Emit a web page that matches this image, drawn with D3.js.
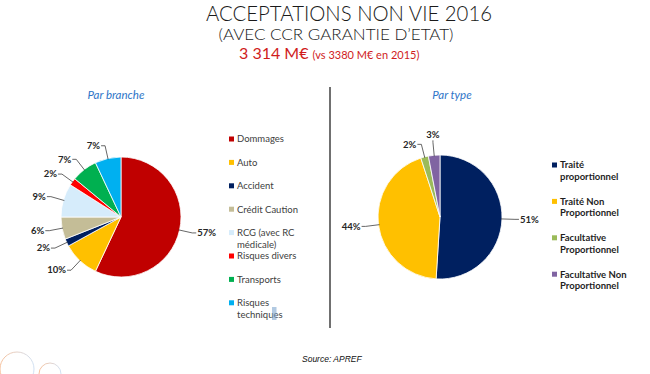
<!DOCTYPE html>
<html>
<head>
<meta charset="utf-8">
<script src="https://cdn.jsdelivr.net/npm/d3@7"></script>
<style>
  body { margin: 0; background: #fff; }
  svg { display: block; }
</style>
</head>
<body>
<svg id="chart" width="650" height="374"></svg>
<script>
// data
const branches = ["Dommages", "Auto", "Accident", "Crédit Caution", "RCG (avec RC\nmédicale)", "Risques divers", "Transports", "Risques\ntechniques"];
const branchShares = [57, 10, 2, 6, 9, 2, 7, 7];
const branchColors = ["#c00000", "#ffc000", "#002060", "#c4bd97", "#d6ecfb", "#ff0000", "#00b050", "#00b0f0"];

const types = ["Traité\nproportionnel", "Traité Non\nProportionnel", "Facultative\nProportionnel", "Facultative Non\nProportionnel"];
const typeShares = [51, 44, 2, 3];
const typeColors = ["#002060", "#ffc000", "#9bbb59", "#8064a2"];

const svg = d3.select("#chart");
const font = "Lato, 'Open Sans', sans-serif";

svg.append("rect").attr("width", 650).attr("height", 374).attr("fill", "#fff");

// titles
svg.append("text")
    .attr("x", 349).attr("y", 21)
    .attr("text-anchor", "middle")
    .attr("font-family", font).attr("font-weight", 300)
    .attr("font-size", 21).attr("fill", "#1a1a1a")
    .attr("textLength", 286).attr("lengthAdjust", "spacingAndGlyphs")
    .text("ACCEPTATIONS NON VIE 2016");

svg.append("text")
    .attr("x", 336).attr("y", 40)
    .attr("text-anchor", "middle")
    .attr("font-family", font).attr("font-weight", 300)
    .attr("font-size", 16).attr("fill", "#1a1a1a")
    .attr("textLength", 235).attr("lengthAdjust", "spacingAndGlyphs")
    .text("(AVEC CCR GARANTIE D’ETAT)");

const sub = svg.append("text")
    .attr("x", 239).attr("y", 58.5)
    .attr("font-family", font).attr("fill", "#d01c1c");
sub.append("tspan").attr("font-size", 16).text("3 314 M€ ");
sub.append("tspan").attr("font-size", 11).text("(vs 3380 M€ en 2015)");

svg.append("text")
    .attr("x", 116).attr("y", 99)
    .attr("text-anchor", "middle")
    .attr("font-family", font).attr("font-style", "italic")
    .attr("font-size", 11.5).attr("fill", "#2e75c8")
    .text("Par branche");

svg.append("text")
    .attr("x", 452).attr("y", 99)
    .attr("text-anchor", "middle")
    .attr("font-family", font).attr("font-style", "italic")
    .attr("font-size", 11.5).attr("fill", "#2e75c8")
    .text("Par type");

// divider
svg.append("line")
    .attr("x1", 330).attr("y1", 87)
    .attr("x2", 330).attr("y2", 328)
    .attr("stroke", "#404040").attr("stroke-width", 1.5);

// source
svg.append("text")
    .attr("x", 302).attr("y", 362)
    .attr("font-family", "'Liberation Sans', Arial, sans-serif")
    .attr("font-style", "italic")
    .attr("font-size", 8.5).attr("fill", "#111")
    .text("Source: APREF");

// decorative circles
const defs = svg.append("defs");
const grad = defs.append("linearGradient").attr("id", "ring");
grad.append("stop").attr("offset", "0%").attr("stop-color", "#f4b183");
grad.append("stop").attr("offset", "100%").attr("stop-color", "#c5d9f0");
[[17, 369, 17], [50, 374, 11]].forEach(c => {
    svg.append("circle")
        .attr("cx", c[0]).attr("cy", c[1]).attr("r", c[2])
        .attr("fill", "none").attr("stroke", "url(#ring)")
        .attr("stroke-width", 1).attr("opacity", 0.8);
});

function drawPie(cx, cy, r, shares, colors) {
    const g = svg.append("g").attr("transform", `translate(${cx},${cy})`);
    const pie = d3.pie().sort(null).value(d => d);
    const arc = d3.arc().innerRadius(0).outerRadius(r);
    const arcs = pie(shares);

    g.selectAll("path.slice")
        .data(arcs)
        .join("path")
        .attr("class", "slice")
        .attr("d", arc)
        .attr("fill", (d, i) => colors[i])
        .attr("stroke", "#fff")
        .attr("stroke-width", 0.8);

    const elbowR = r + 13;
    arcs.forEach(d => {
        const mid = (d.startAngle + d.endAngle) / 2;
        const s = Math.sin(mid), c = Math.cos(mid);
        const edge = [s * (r - 1), -c * (r - 1)];
        const elbow = [s * elbowR, -c * elbowR];
        const top = c > 0.98;
        let anchor, tx, ty, end;
        if (top) {
            anchor = "middle";
            end = [elbow[0], elbow[1] - 2];
            tx = elbow[0]; ty = elbow[1] - 4;
        } else if (s > 0) {
            anchor = "start";
            end = [elbow[0] + 4, elbow[1]];
            tx = end[0] + 1; ty = elbow[1] + 3.2;
        } else {
            anchor = "end";
            end = [elbow[0] - 4, elbow[1]];
            tx = end[0] - 1; ty = elbow[1] + 3.2;
        }
        g.append("polyline")
            .attr("points", [edge, elbow, end].map(p => p.join(",")).join(" "))
            .attr("fill", "none")
            .attr("stroke", "#404040")
            .attr("stroke-width", 0.8);
        g.append("text")
            .attr("x", tx).attr("y", ty)
            .attr("text-anchor", anchor)
            .attr("font-family", font).attr("font-weight", "bold")
            .attr("font-size", 9.5).attr("fill", "#262626")
            .text(d.data + "%");
    });
}

function drawLegend(x, y0, step, names, colors, bold) {
    const row = d3.scaleLinear().domain([0, 1]).range([y0, y0 + step]);
    const g = svg.append("g");
    names.forEach((name, i) => {
        const y = row(i);
        g.append("rect")
            .attr("x", x).attr("y", y - 2.5)
            .attr("width", 5).attr("height", 5)
            .attr("fill", colors[i]);
        const t = g.append("text")
            .attr("font-family", font)
            .attr("font-size", 9.5)
            .attr("font-weight", bold ? "bold" : "normal")
            .attr("fill", bold ? "#1f1f1f" : "#404040");
        name.split("\n").forEach((line, k) => {
            t.append("tspan")
                .attr("x", x + 8)
                .attr("y", y + 3.3 + k * 11.7)
                .text(line);
        });
    });
}

drawPie(121, 217, 60, branchShares, branchColors);
drawPie(440, 217, 62, typeShares, typeColors);

drawLegend(229, 139, 23.4, branches, branchColors, false);
drawLegend(552, 165, 36.4, types, typeColors, true);

// small selection highlight seen over the last legend label
svg.append("rect")
    .attr("x", 272).attr("y", 307)
    .attr("width", 4.5).attr("height", 13)
    .attr("fill", "#7fa7cf").attr("opacity", 0.6);
</script>
</body>
</html>
